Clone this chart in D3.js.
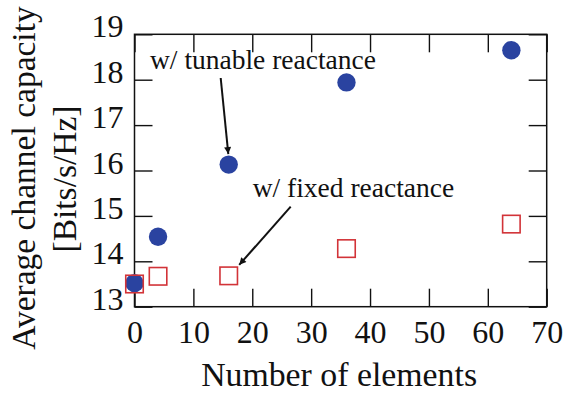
<!DOCTYPE html>
<html>
<head>
<meta charset="utf-8">
<script src="https://cdn.jsdelivr.net/npm/d3@7"></script>
<style>
  html, body { margin: 0; padding: 0; background: #fff; }
  svg { display: block; }
  text { font-family: "Liberation Serif", "Times New Roman", Times, serif; fill: #111; }
</style>
</head>
<body>
<svg id="chart" width="564" height="396"></svg>
<script>
// ---- data ----
const elements = [0, 4, 16, 36, 64];
const tunableCapacity = [13.52, 14.54, 16.13, 17.94, 18.65];
const fixedCapacity = [13.50, 13.67, 13.68, 14.28, 14.82];
const xTicks = [0, 10, 20, 30, 40, 50, 60, 70];
const yTicks = [13, 14, 15, 16, 17, 18, 19];
const xTitle = "Number of elements";
const yTitleLines = ["Average channel capacity", "[Bits/s/Hz]"];
const annoTunable = "w/ tunable reactance";
const annoFixed = "w/ fixed reactance";

// ---- layout ----
const svg = d3.select("#chart");
const L = 134.5, R = 546.7, T = 34.3, B = 306.7;
const x = d3.scaleLinear().domain([0, 70]).range([L, R]);
const y = d3.scaleLinear().domain([13, 19]).range([B, T]);
const tickLen = 18;
const fmt = d3.format("d");

// axes (inward ticks)
const gB = svg.append("g").attr("transform", `translate(0,${B})`)
  .call(d3.axisBottom(x).tickValues(xTicks).tickFormat(fmt).tickSize(-tickLen).tickSizeOuter(0).tickPadding(13.5));
const gL = svg.append("g").attr("transform", `translate(${L},0)`)
  .call(d3.axisLeft(y).tickValues(yTicks).tickFormat(fmt).tickSize(-tickLen).tickSizeOuter(0).tickPadding(11));
const gT = svg.append("g").attr("transform", `translate(0,${T})`)
  .call(d3.axisTop(x).tickValues(xTicks).tickSize(-tickLen).tickSizeOuter(0).tickFormat(""));
const gR = svg.append("g").attr("transform", `translate(${R},0)`)
  .call(d3.axisRight(y).tickValues(yTicks).tickSize(-tickLen).tickSizeOuter(0).tickFormat(""));

[gB, gL, gT, gR].forEach(g => {
  g.select(".domain").remove();
  g.selectAll(".tick line").attr("stroke", "#111").attr("stroke-width", 1.4);
  g.selectAll(".tick text").attr("font-size", 32).attr("fill", "#111")
    .style("font-family", '"Liberation Serif", "Times New Roman", serif');
});
gL.selectAll(".tick text").attr("dy", "0em").attr("y", 0)
  .attr("transform", "translate(0,2.5)");

// frame
svg.append("rect").attr("x", L).attr("y", T).attr("width", R - L).attr("height", B - T)
  .attr("fill", "none").attr("stroke", "#111").attr("stroke-width", 1.5);

// series
const tunable = elements.map((e, i) => ({ x: e, y: tunableCapacity[i] }));
const fixed = elements.map((e, i) => ({ x: e, y: fixedCapacity[i] }));

svg.append("g").selectAll("circle").data(tunable).join("circle")
  .attr("cx", d => x(d.x)).attr("cy", d => y(d.y)).attr("r", 9.2)
  .attr("fill", "#2a43a0");

const sq = 17.5;
svg.append("g").selectAll("rect").data(fixed).join("rect")
  .attr("x", d => x(d.x) - sq / 2).attr("y", d => y(d.y) - sq / 2)
  .attr("width", sq).attr("height", sq)
  .attr("fill", "none").attr("stroke", "#d23338").attr("stroke-width", 1.6);

// arrow marker
const defs = svg.append("defs");
defs.append("marker").attr("id", "arr").attr("viewBox", "0 0 10 10")
  .attr("refX", 10).attr("refY", 5).attr("markerWidth", 9).attr("markerHeight", 7)
  .attr("markerUnits", "userSpaceOnUse").attr("orient", "auto")
  .append("path").attr("d", "M0,0 L10,5 L0,10 Z").attr("fill", "#111");

// annotations
svg.append("text").attr("x", 150).attr("y", 69).attr("font-size", 27.5).text(annoTunable);
svg.append("line").attr("x1", 220.7).attr("y1", 78).attr("x2", x(16) - 0.4).attr("y2", y(tunableCapacity[2]) - 10.5)
  .attr("stroke", "#111").attr("stroke-width", 2).attr("marker-end", "url(#arr)");

svg.append("text").attr("x", 252.7).attr("y", 197).attr("font-size", 27.5).text(annoFixed);
svg.append("line").attr("x1", 290.7).attr("y1", 206.7).attr("x2", x(16) + 10.5).attr("y2", y(fixedCapacity[2]) - 11)
  .attr("stroke", "#111").attr("stroke-width", 2).attr("marker-end", "url(#arr)");

// axis titles
svg.append("text").attr("x", (L + R) / 2 - 1.5).attr("y", 386).attr("text-anchor", "middle")
  .attr("font-size", 33.8).text(xTitle);

svg.append("text").attr("transform", "translate(35,178) rotate(-90)").attr("text-anchor", "middle")
  .attr("font-size", 33.5).text(yTitleLines[0]);
svg.append("text").attr("transform", "translate(76,179) rotate(-90)").attr("text-anchor", "middle")
  .attr("font-size", 33.5).text(yTitleLines[1]);
</script>
</body>
</html>
